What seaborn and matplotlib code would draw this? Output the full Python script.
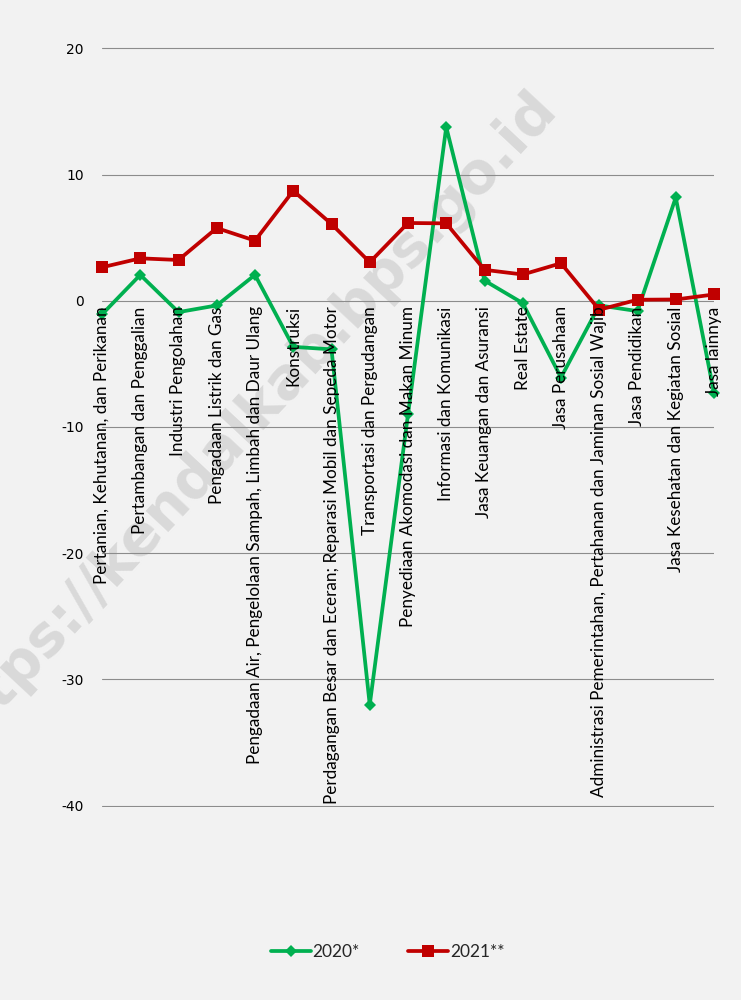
import pandas as pd
import numpy as np
import matplotlib
matplotlib.use("Agg")
import matplotlib.pyplot as plt
import seaborn as sns

#data
sektor = [
    "Pertanian, Kehutanan, dan Perikanan",
    "Pertambangan dan Penggalian",
    "Industri Pengolahan",
    "Pengadaan Listrik dan Gas",
    "Pengadaan Air, Pengelolaan Sampah, Limbah dan Daur Ulang",
    "Konstruksi",
    "Perdagangan Besar dan Eceran; Reparasi Mobil dan Sepeda Motor",
    "Transportasi dan Pergudangan",
    "Penyediaan Akomodasi dan Makan Minum",
    "Informasi dan Komunikasi",
    "Jasa Keuangan dan Asuransi",
    "Real Estate",
    "Jasa Perusahaan",
    "Administrasi Pemerintahan, Pertahanan dan Jaminan Sosial Wajib",
    "Jasa Pendidikan",
    "Jasa Kesehatan dan Kegiatan Sosial",
    "Jasa lainnya",
]
nilai_2020 = [-1.08, 2.05, -0.9, -0.37, 2.05, -3.65, -3.85, -32.0, -9.0, 13.76,
              1.6, -0.19, -6.08, -0.37, -0.82, 8.18, -7.3]
nilai_2021 = [2.65, 3.36, 3.23, 5.76, 4.76, 8.71, 6.08, 3.05, 6.16, 6.13,
              2.45, 2.08, 2.97, -0.71, 0.08, 0.1, 0.5]
yticks = [20, 10, 0, -10, -20, -30, -40]

df20 = pd.DataFrame({"sektor": sektor, "nilai": nilai_2020})
df21 = pd.DataFrame({"sektor": sektor, "nilai": nilai_2021})

#style
bg = "#F2F2F2"
sns.set_style("white")
plt.rcParams["font.family"] = ["Lato", "DejaVu Sans"]

fig = plt.figure(figsize=(7.41, 10), dpi=100, facecolor=bg)
ax = fig.add_axes([102 / 741, 1 - 807 / 1000, 612 / 741, 760 / 1000])
ax.set_facecolor(bg)

#watermark (behind everything in the axes)
ax.text(0.33, 0.577, "https://kendalkab.bps.go.id", rotation=47,
        transform=fig.transFigure, clip_on=False,
        ha="center", va="center", fontsize=41, fontweight="bold",
        color="#D9D9D9", family="DejaVu Sans", zorder=0.5)

#lines
sns.lineplot(data=df20, x="sektor", y="nilai", ax=ax, color="#00B050",
             marker="D", markersize=6.5, markeredgewidth=0, linewidth=2.7,
             label="2020*", sort=False, zorder=3)
sns.lineplot(data=df21, x="sektor", y="nilai", ax=ax, color="#C00000",
             marker="s", markersize=8.5, markeredgewidth=0, linewidth=2.7,
             label="2021**", sort=False, zorder=4)
for ln in ax.lines:
    ln.set_clip_on(False)

ax.set_xlim(0, len(sektor) - 1)
ax.set_ylim(-40.1, 20.1)
ax.set_yticks(yticks)
ax.set_yticklabels([str(t) for t in yticks], family="DejaVu Sans",
                   fontsize=10, color="#000000")
ax.tick_params(axis="y", length=0, pad=13)
ax.tick_params(axis="x", length=0, labelbottom=False)
ax.grid(axis="y", color="#8C8C8C", linewidth=0.8, zorder=1)
ax.set_axisbelow(True)
for s in ax.spines.values():
    s.set_visible(False)
ax.set_xlabel("")
ax.set_ylabel("")

#category labels hanging under zero line
for i, name in enumerate(sektor):
    ax.annotate(name, xy=(i, 0), xytext=(0, -4), textcoords="offset points",
                rotation=90, ha="center", va="top", fontsize=12.3,
                color="#000000", zorder=5)

ax.get_legend().remove()
h, l = ax.get_legend_handles_labels()
fig.legend(h, l, loc="center", bbox_to_anchor=(0.523, 0.048), ncol=2,
           frameon=False, fontsize=12.5, handlelength=2.3, columnspacing=2.8,
           handletextpad=0.1)

plt.savefig("out.png", dpi=100, facecolor=bg)
